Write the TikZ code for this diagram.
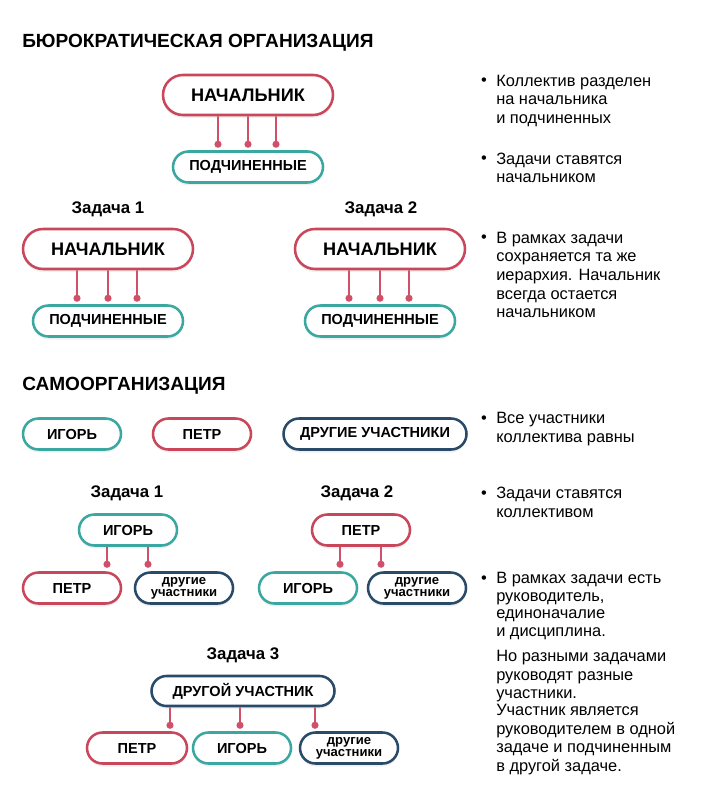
\documentclass[tikz,border=0pt]{standalone}
\usepackage{fontspec}
\setmainfont{Liberation Sans}
\usetikzlibrary{calc}
\usetikzlibrary{shapes.misc}
\usetikzlibrary{shadows}
\usepackage{xcolor}

\definecolor{bossred}{HTML}{C8475A}
\definecolor{teamteal}{HTML}{3AA8A0}
\definecolor{restnavy}{HTML}{2A4A6A}
\definecolor{linkred}{HTML}{D0506A}

% sizes below are in pt, one pixel of the reference is 0.75pt
\tikzset{
  pill/.style={rounded rectangle, draw, line width=1.9pt, fill=white,
    inner sep=0pt, minimum height=23.25pt, minimum width=73.5pt,
    font=\bfseries\fontsize{10.9}{12}\selectfont, align=center,
    drop shadow={shadow xshift=0pt, shadow yshift=-2.25pt, opacity=0.12}},
  bigpill/.style={pill, minimum height=30pt, minimum width=127.5pt,
    font=\bfseries\fontsize{13.6}{15}\selectfont},
  bosspill/.style={draw=bossred},
  teampill/.style={draw=teamteal},
  restpill/.style={draw=restnavy},
  twolines/.style={font=\bfseries\fontsize{9.8}{9}\selectfont},
  heading/.style={anchor=west, inner sep=0pt, font=\bfseries\fontsize{14.3}{16}\selectfont},
  task/.style={inner sep=0pt, font=\bfseries\fontsize{12.6}{14}\selectfont},
  note/.style={anchor=north west, inner sep=0pt, align=left,
    font=\fontsize{12.3}{14}\selectfont},
  bullet/.style={inner sep=0pt, font=\fontsize{12.3}{14}\selectfont},
  link/.style={draw=linkred, fill=linkred, line width=1.35pt}
}

\begin{document}
\begin{tikzpicture}[x=0.75pt,y=-0.75pt]
      \useasboundingbox (0,0) rectangle (701,812);

      % Bureaucracy
      \node[heading] (bur) at (22,43) {БЮРОКРАТИЧЕСКАЯ ОРГАНИЗАЦИЯ};
      \node[bigpill,bosspill] (boss) at (248,95) {НАЧАЛЬНИК};
      \node[pill,teampill,minimum width=112.5pt] (team) at (248,167) {ПОДЧИНЕННЫЕ};
      \foreach \dx in {-30,0,28}
      {
        \draw[link] ($(boss.south)+(\dx,0)$) -- ($(team.north)+(\dx,-6)$) circle[radius=2.6];
      }

      % Tasks 1 and 2
      \node[task] (btask1) at (108,209) {Задача 1};
      \node[bigpill,bosspill] (boss1) at (108,249) {НАЧАЛЬНИК};
      \node[pill,teampill,minimum width=112.5pt] (team1) at (108,321) {ПОДЧИНЕННЫЕ};
      \node[task] (btask2) at (381,209) {Задача 2};
      \node[bigpill,bosspill] (boss2) at (380,249) {НАЧАЛЬНИК};
      \node[pill,teampill,minimum width=112.5pt] (team2) at (380,321) {ПОДЧИНЕННЫЕ};
      \foreach \dx in {-31,0,29}
      {
        \draw[link] ($(boss1.south)+(\dx,0)$) -- ($(team1.north)+(\dx,-6)$) circle[radius=2.6];
        \draw[link] ($(boss2.south)+(\dx,0)$) -- ($(team2.north)+(\dx,-6)$) circle[radius=2.6];
      }

      % Self-organisation
      \node[heading] (self) at (22,386) {САМООРГАНИЗАЦИЯ};
      \node[pill,teampill] (igor) at (72,434) {ИГОРЬ};
      \node[pill,bosspill] (petr) at (202,434) {ПЕТР};
      \node[pill,restpill,minimum width=137.25pt] (rest) at (375,434) {ДРУГИЕ УЧАСТНИКИ};

      % Task 1
      \node[task] (stask1) at (127,493) {Задача 1};
      \node[pill,teampill] (igorA) at (128,530) {ИГОРЬ};
      \node[pill,bosspill] (petrA) at (72,588) {ПЕТР};
      \node[pill,restpill,twolines] (restA) at (184,588) {другие\\участники};
      \draw[link] ($(igorA.south)+(-21,0)$) -- ($(igorA.south |- petrA.north)+(-21,-7)$) circle[radius=2.6];
      \draw[link] ($(igorA.south)+(20,0)$) -- ($(igorA.south |- restA.north)+(20,-7)$) circle[radius=2.6];

      % Task 2
      \node[task] (stask2) at (357,493) {Задача 2};
      \node[pill,bosspill] (petrB) at (361,530) {ПЕТР};
      \node[pill,teampill] (igorB) at (308,588) {ИГОРЬ};
      \node[pill,restpill,twolines] (restB) at (417,588) {другие\\участники};
      \draw[link] ($(petrB.south)+(-21,0)$) -- ($(petrB.south |- igorB.north)+(-21,-7)$) circle[radius=2.6];
      \draw[link] ($(petrB.south)+(20,0)$) -- ($(petrB.south |- restB.north)+(20,-7)$) circle[radius=2.6];

      % Task 3
      \node[task] (stask3) at (243,655) {Задача 3};
      \node[pill,restpill,minimum width=137.25pt,minimum height=22.5pt] (lead) at (243,691) {ДРУГОЙ УЧАСТНИК};
      \node[pill,bosspill,minimum width=75pt] (petrC) at (137,748) {ПЕТР};
      \node[pill,teampill] (igorC) at (242,748) {ИГОРЬ};
      \node[pill,restpill,twolines] (restC) at (349,748) {другие\\участники};
      \draw[link] ($(lead.south)+(-73,0)$) -- ($(lead.south |- petrC.north)+(-73,-6)$) circle[radius=2.6];
      \draw[link] ($(lead.south)+(-3,0)$) -- ($(lead.south |- igorC.north)+(-3,-6)$) circle[radius=2.6];
      \draw[link] ($(lead.south)+(72,0)$) -- ($(lead.south |- restC.north)+(72,-6)$) circle[radius=2.6];

      % Notes
      \node[note] (note1) at (496,73) {\strut Коллектив разделен\\на начальника\\и подчиненных};
      \node[note] (note2) at (496,151) {\strut Задачи ставятся\\начальником};
      \node[note] (note3) at (496,230) {\strut В рамках задачи\\сохраняется та же\\иерархия. Начальник\\всегда остается\\начальником};
      \node[note] (note4) at (496,410) {\strut Все участники\\коллектива равны};
      \node[note] (note5) at (496,485) {\strut Задачи ставятся\\коллективом};
      \node[note,font=\fontsize{12.3}{13.3}\selectfont] (note6) at (496,570.6) {\strut В рамках задачи есть\\руководитель,\\единоначалие\\и дисциплина.};
      \node[note] (note7) at (496,648) {\strut Но разными задачами\\руководят разные\\участники.};
      \node[note] (note8) at (496,702) {\strut Участник является\\руководителем в одной\\задаче и подчиненным\\в другой задаче.};
      \foreach \n/\y in {1/86,2/164,3/243,4/423,5/498,6/583}
      {
        \node[bullet,anchor=base] (dot\n) at (484,\y) {•};
      }

  \end{tikzpicture}
\end{document}
